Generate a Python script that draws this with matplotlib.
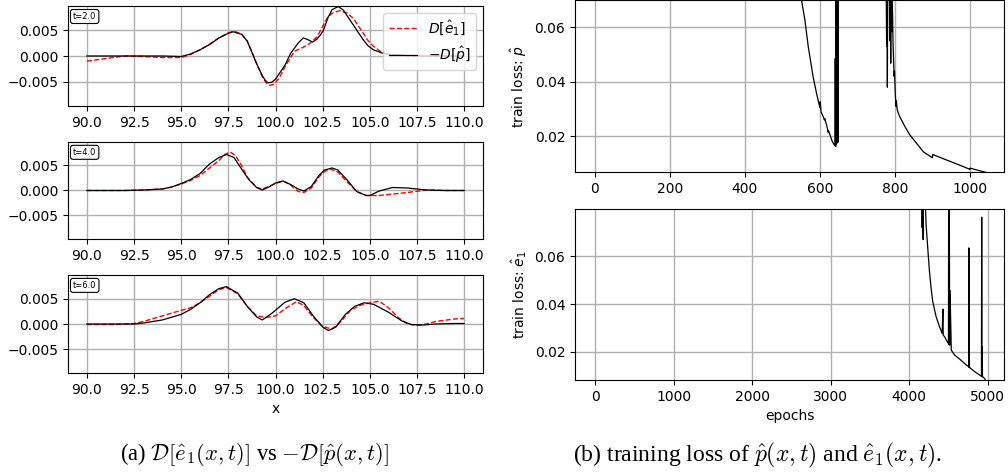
import matplotlib
matplotlib.use("Agg")
import matplotlib.pyplot as plt

# ---------------- data: left panels (D[e1] vs -D[p]) ----------------
# t = 2.0
t2_x_p = [90, 91, 92, 93, 94, 95, 95.5, 96, 96.5, 97, 97.5, 97.75, 98.2, 98.5, 98.75, 99, 99.3, 99.45, 99.6, 99.8,
          100, 100.5, 100.8, 101.2, 101.47, 101.7, 101.97, 102.2, 102.36, 102.53, 102.8, 103.0, 103.33, 103.6, 103.85,
          104.13, 104.4, 104.66, 104.9, 105.19, 105.63, 106, 107, 108, 109, 110]
t2_y_p = [0, 0, 0, 0, 0, -0.0001, 0.0004, 0.0012, 0.0022, 0.0035, 0.0044, 0.0047, 0.0042, 0.0029, 0.0007, -0.0015,
          -0.0038, -0.0047, -0.0052, -0.0051, -0.0045, -0.0018, 0.0005, 0.0025, 0.0035, 0.0032, 0.0027, 0.0033,
          0.0040, 0.0049, 0.0076, 0.0090, 0.0096, 0.0089, 0.0075, 0.0060, 0.0045, 0.0031, 0.0020, 0.0012, 0.0006,
          0.0003, 0.0001, 0, 0, 0]
t2_x_e = [90, 91, 92, 93, 94, 95, 95.5, 96, 96.5, 97, 97.5, 97.8, 98.2, 98.5, 98.75, 99, 99.3, 99.5, 99.7, 99.9,
          100.2, 100.5, 101, 101.47, 101.8, 102.2, 102.54, 102.75, 103.0, 103.4, 103.8, 104.13, 104.4, 104.66, 104.9,
          105.19, 105.63, 106, 107, 108, 109, 110]
t2_y_e = [-0.001, -0.0005, 0.0, -0.0001, -0.0003, -0.0003, 0.0003, 0.0012, 0.0023, 0.0035, 0.0045, 0.0048, 0.0043,
          0.0029, 0.0008, -0.0015, -0.0040, -0.0052, -0.0057, -0.0055, -0.0043, -0.0021, 0.0009, 0.0017, 0.0024,
          0.0037, 0.0060, 0.0074, 0.0083, 0.0088, 0.0083, 0.0073, 0.0058, 0.0044, 0.0030, 0.0019, 0.0007, 0.0003,
          0.0, -0.0001, -0.0001, 0.0]

# t = 4.0
t4_x_p = [90, 91, 92, 93, 94, 94.5, 95, 95.5, 96, 96.5, 97, 97.4, 97.8, 98.2, 98.6, 99, 99.3, 99.7, 100.0, 100.4,
          100.8, 101.2, 101.5, 101.9, 102.3, 102.6, 103.0, 103.3, 103.8, 104.3, 104.8, 105, 105.5, 106.2, 107, 108,
          109, 110]
t4_y_p = [0, 0, 0, 0.0001, 0.0003, 0.0007, 0.0014, 0.0022, 0.0034, 0.0053, 0.0066, 0.0072, 0.0066, 0.0043, 0.0021,
          0.0006, 0.0001, 0.0008, 0.0015, 0.0019, 0.0012, 0.0003, -0.0001, 0.0008, 0.0030, 0.0041, 0.0045, 0.0041,
          0.0021, -0.0002, -0.0010, -0.0010, -0.0001, 0.0006, 0.0005, 0.0001, 0, 0]
t4_x_e = [90, 91, 92, 93, 94, 94.5, 95, 95.5, 96, 96.5, 97, 97.3, 97.6, 97.9, 98.2, 98.5, 99, 99.3, 99.7, 100.0,
          100.4, 100.8, 101.2, 101.5, 101.9, 102.3, 102.6, 102.9, 103.3, 103.8, 104.3, 104.8, 105.5, 106, 107, 108,
          109, 110]
t4_y_e = [0, 0, 0, 0.0001, 0.0003, 0.0007, 0.0013, 0.0020, 0.0030, 0.0045, 0.0060, 0.0072, 0.0077, 0.0069, 0.0050,
          0.0027, 0.0006, 0.0003, 0.0009, 0.0014, 0.0019, 0.0011, -0.0002, -0.0004, 0.0005, 0.0027, 0.0038, 0.0043,
          0.0037, 0.0017, -0.0002, -0.0010, -0.0010, -0.0008, -0.0004, 0.0001, 0, 0]

# t = 6.0
t6_x_p = [90, 91, 92, 92.5, 93, 94, 95, 95.5, 96, 96.5, 97, 97.4, 98, 98.5, 99, 99.3, 99.8, 100.5, 101, 101.5, 102,
          102.5, 102.8, 103.2, 103.7, 104.2, 104.7, 105.2, 106, 106.7, 107.2, 107.8, 108.5, 109.5, 110]
t6_y_p = [0, 0, 0, 0, 0.0002, 0.0008, 0.0019, 0.0029, 0.0042, 0.0058, 0.0070, 0.0074, 0.0061, 0.0035, 0.0014,
          0.0008, 0.0021, 0.0043, 0.0050, 0.0042, 0.0016, -0.0006, -0.0013, -0.0006, 0.0019, 0.0035, 0.0042, 0.0039,
          0.0023, 0.0006, -0.0001, -0.0002, 0, 0.0001, 0.0001]
t6_x_e = [90, 91.5, 92.5, 93, 94, 95, 95.5, 96, 97, 97.4, 98, 98.5, 99, 99.5, 100, 100.5, 101.1, 101.5, 102, 102.5,
          103, 103.5, 104, 104.5, 105, 105.5, 106, 106.5, 107, 107.5, 108, 108.5, 109.5, 110]
t6_y_e = [-0.0001, -0.0001, 0.0001, 0.0005, 0.0016, 0.0027, 0.0032, 0.0042, 0.0068, 0.0072, 0.0060, 0.0035, 0.0016,
          0.0013, 0.0016, 0.0030, 0.0044, 0.0037, 0.0013, -0.0005, -0.0010, 0.0006, 0.0028, 0.0037, 0.0042, 0.0045,
          0.0032, 0.0013, 0.0, -0.0003, 0.0, 0.0005, 0.0010, 0.0011]

panels = [("t=2.0", t2_x_e, t2_y_e, t2_x_p, t2_y_p),
          ("t=4.0", t4_x_e, t4_y_e, t4_x_p, t4_y_p),
          ("t=6.0", t6_x_e, t6_y_e, t6_x_p, t6_y_p)]

# ---------------- data: right panels (training loss) ----------------
epochs_p = [0, 100, 200, 300, 400, 500, 540, 551, 560, 569, 582, 591, 600, 601, 603, 609, 612, 613, 618, 622, 623,
            627, 632, 636, 640, 641, 642, 643, 644, 645, 646, 647, 648, 650, 700, 776, 778, 779, 780, 781, 785, 786,
            787, 789, 790, 792, 793, 795, 797, 798, 799, 801, 803, 804, 806, 809, 813, 827, 840, 858, 876, 898, 900,
            901, 938, 973, 998, 1000, 1001, 1036, 1049]
loss_p = [0.9, 0.5, 0.3, 0.2, 0.12, 0.085, 0.074, 0.07, 0.0627, 0.0529, 0.0418, 0.0358, 0.0305, 0.0327, 0.029,
          0.0272, 0.026, 0.0265, 0.0241, 0.0215, 0.022, 0.0205, 0.0185, 0.0174, 0.0165, 0.0485, 0.0162, 0.09, 0.017,
          0.09, 0.0175, 0.09, 0.0178, 0.09, 0.12, 0.09, 0.0529, 0.09, 0.038, 0.09, 0.09, 0.055, 0.09, 0.0468, 0.09,
          0.0584, 0.072, 0.055, 0.046, 0.042, 0.044, 0.036, 0.031, 0.033, 0.030, 0.0285, 0.0272, 0.0235, 0.0205,
          0.0174, 0.0143, 0.0123, 0.0121, 0.0133, 0.0113, 0.0094, 0.0080, 0.0078, 0.0083, 0.0070, 0.0066]

epochs_e = [0, 1000, 2000, 3000, 4000, 4160, 4165, 4170, 4178, 4182, 4205, 4208, 4215, 4236, 4258, 4279, 4300, 4343,
            4386, 4420, 4429, 4433, 4451, 4485, 4500, 4503, 4506, 4510, 4515, 4520, 4536, 4579, 4644, 4730, 4758,
            4760, 4762, 4765, 4767, 4773, 4837, 4901, 4920, 4923, 4926, 4930, 4933, 4944, 4966]
loss_e = [1.0, 0.5, 0.3, 0.2, 0.12, 0.1, 0.072, 0.1, 0.067, 0.1, 0.1, 0.08, 0.0733, 0.0635, 0.0537, 0.0466, 0.041,
          0.0347, 0.0305, 0.0277, 0.0379, 0.027, 0.0263, 0.0242, 0.0235, 0.1, 0.023, 0.1, 0.0228, 0.0456, 0.0207,
          0.0186, 0.0169, 0.0144, 0.0138, 0.0635, 0.0135, 0.033, 0.0134, 0.0133, 0.0116, 0.0102, 0.0098, 0.0764,
          0.0096, 0.022, 0.0095, 0.0094, 0.0085]

caption_a = r"(a) $\mathcal{D}[\hat{e}_1(x,t)]$ vs $-\mathcal{D}[\hat{p}(x,t)]$"
caption_b = r"(b) training loss of $\hat{p}(x,t)$ and $\hat{e}_1(x,t)$."

# ---------------- figure ----------------
W, H = 1008, 474
fig = plt.figure(figsize=(W / 100, H / 100), dpi=100)


def box(x0, y0, x1, y1):
    return [x0 / W, 1 - y1 / H, (x1 - x0) / W, (y1 - y0) / H]


left_boxes = [box(68, 6, 483, 106), box(68, 142, 483, 239), box(68, 275, 483, 373)]
grid_kw = dict(color="#b0b0b0", lw=1.0)

for i, (lab, xe, ye, xp, yp) in enumerate(panels):
    ax = fig.add_axes(left_boxes[i])
    ax.grid(True, **grid_kw)
    ax.set_axisbelow(True)
    ax.plot(xe, ye, "--", color="red", lw=1.0, label=r"$D[\hat{e}_1]$")
    ax.plot(xp, yp, "-", color="black", lw=0.9, label=r"$-D[\hat{p}]$")
    ax.set_xlim(89, 111)
    ax.set_ylim(-0.0097, 0.0097)
    ax.set_yticks([-0.005, 0.0, 0.005])
    ax.set_xticks([90, 92.5, 95, 97.5, 100, 102.5, 105, 107.5, 110])
    ax.tick_params(labelsize=10)
    ax.text(0.012, 0.94, lab, transform=ax.transAxes, fontsize=6, va="top", ha="left",
            bbox=dict(boxstyle="round,pad=0.3", fc="white", ec="black", lw=0.8))
    if i == 0:
        ax.legend(loc="upper right", fontsize=10)
    if i == 2:
        ax.set_xlabel("x", fontsize=10)

axr1 = fig.add_axes(box(575, 0.5, 1004, 172))
axr1.grid(True, **grid_kw)
axr1.set_axisbelow(True)
axr1.plot(epochs_p, loss_p, color="black", lw=0.9)
axr1.set_xlim(-53, 1091)
axr1.set_ylim(0.0069, 0.0698)
axr1.set_yticks([0.02, 0.04, 0.06])
axr1.set_xticks([0, 200, 400, 600, 800, 1000])
axr1.tick_params(labelsize=10)
axr1.set_ylabel(r"train loss: $\hat{p}$", fontsize=10)

axr2 = fig.add_axes(box(575, 209, 1004, 380))
axr2.grid(True, **grid_kw)
axr2.set_axisbelow(True)
axr2.plot(epochs_e, loss_e, color="black", lw=0.9)
axr2.set_xlim(-255, 5207)
axr2.set_ylim(0.0082, 0.0798)
axr2.set_yticks([0.02, 0.04, 0.06])
axr2.set_xticks([0, 1000, 2000, 3000, 4000, 5000])
axr2.tick_params(labelsize=10)
axr2.set_ylabel(r"train loss: $\hat{e}_1$", fontsize=10)
axr2.set_xlabel("epochs", fontsize=10)

fig.text(255 / W, 1 - 455 / H, caption_a, ha="center", va="center", fontsize=16.3,
         family="Liberation Serif", math_fontfamily="cm")
fig.text(757 / W, 1 - 455 / H, caption_b, ha="center", va="center", fontsize=17,
         family="Liberation Serif", math_fontfamily="cm")

fig.savefig("out.png", dpi=100)
